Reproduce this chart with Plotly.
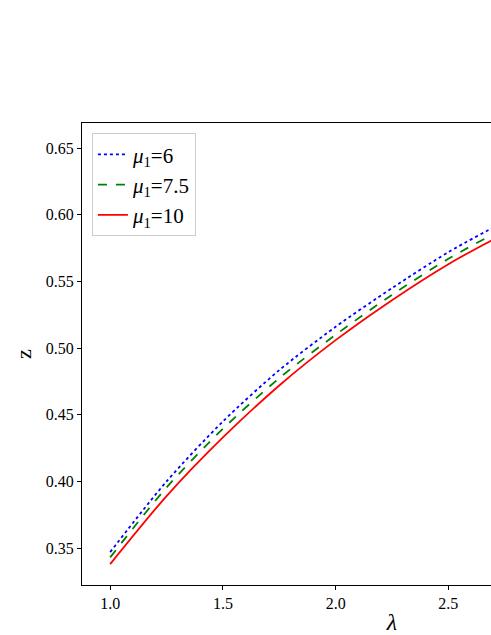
import plotly.graph_objects as go

lam = [1.0, 1.25, 1.5, 1.75, 2.0, 2.25, 2.5, 2.75, 3.0, 3.25, 3.5]
z_mu6 = [0.347, 0.400, 0.445, 0.4835, 0.516, 0.545, 0.572, 0.595, 0.616, 0.635, 0.653]
z_mu75 = [0.343, 0.3955, 0.4395, 0.4775, 0.510, 0.540, 0.567, 0.590, 0.611, 0.630, 0.648]
z_mu10 = [0.338, 0.389, 0.433, 0.472, 0.506, 0.536, 0.563, 0.586, 0.607, 0.626, 0.644]
names = ["<i>μ</i><sub>1</sub>=6", "<i>μ</i><sub>1</sub>=7.5", "<i>μ</i><sub>1</sub>=10"]
xticks = [1.0, 1.5, 2.0, 2.5, 3.0, 3.5]
yticks = [0.35, 0.40, 0.45, 0.50, 0.55, 0.60, 0.65]

FONT = "Liberation Serif"

fig = go.Figure()
for ys, nm, col, dash in [(z_mu6, names[0], "#0000ff", "dot"),
                          (z_mu75, names[1], "#008000", "dash"),
                          (z_mu10, names[2], "#ff0000", "solid")]:
    fig.add_trace(go.Scatter(x=lam, y=ys, mode="lines", name=nm,
                             line=dict(color=col, width=1.8, dash=dash, shape="spline",
                                       smoothing=0.8)))

fig.update_layout(
    width=740, height=635,
    margin=dict(l=82, r=38, t=123, b=50, autoexpand=False),
    paper_bgcolor="white", plot_bgcolor="white",
    font=dict(family=FONT, color="black", size=16),
    showlegend=True,
    legend=dict(x=0.016, y=0.978, xanchor="left", yanchor="top",
                bgcolor="white", bordercolor="#cccccc", borderwidth=1,
                font=dict(family=FONT, size=21)),
    xaxis=dict(range=[0.875, 3.625], tickvals=xticks,
               ticktext=["%.1f" % v for v in xticks],
               ticks="outside", ticklen=4, tickwidth=1, tickcolor="black",
               showline=True, linecolor="black", linewidth=1, mirror=True,
               showgrid=False, zeroline=False, automargin=False,
               tickfont=dict(family=FONT, size=16),
               title=dict(text="<i>λ</i>", font=dict(family=FONT, size=24), standoff=4)),
    yaxis=dict(range=[0.3223, 0.6689], tickvals=yticks,
               ticktext=["%.2f" % v for v in yticks],
               ticks="outside", ticklen=4, tickwidth=1, tickcolor="black",
               showline=True, linecolor="black", linewidth=1, mirror=True,
               showgrid=False, zeroline=False, automargin=False,
               tickfont=dict(family=FONT, size=16),
               title=dict(text="z", font=dict(family=FONT, size=22), standoff=8)),
)

fig.write_html("out.html",
               post_script="document.body.style.margin='0';document.body.style.overflow='hidden';")
